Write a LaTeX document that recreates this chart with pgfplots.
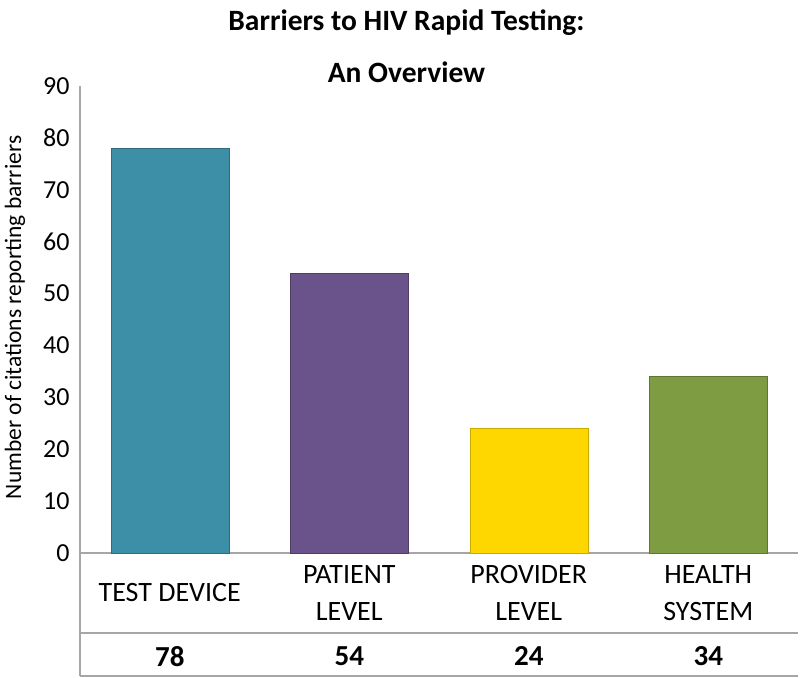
\documentclass[border=0pt]{standalone}
\usepackage{fontspec}
\setmainfont{Carlito}
\usepackage{pgfplots}
\pgfplotsset{compat=1.18}
\definecolor{cteal}{RGB}{60,143,167}
\definecolor{cpurple}{RGB}{106,82,138}
\definecolor{cyellow}{RGB}{254,214,0}
\definecolor{cgreen}{RGB}{126,157,66}
\definecolor{cline}{RGB}{166,166,166}
\begin{document}
\begin{tikzpicture}
\begin{axis}[
  scale only axis, width=718pt, height=467pt,
  xmin=-0.5, xmax=3.5, ymin=0, ymax=90,
  ytick={0,10,...,90},
  xtick={0,1,2,3},
  xticklabels={TEST DEVICE, PATIENT\\LEVEL, PROVIDER\\LEVEL, HEALTH\\SYSTEM},
  xticklabel style={align=center, anchor=center, yshift=-40pt, font=\fontsize{28}{37}\selectfont},
  yticklabel style={font=\fontsize{26}{30}\selectfont, xshift=-7pt},
  /pgf/number format/assume math mode=true,
  major tick length=0pt,
  axis x line*=bottom, axis y line*=left,
  axis line style={draw=cline, line width=1.5pt, -},
  clip=false,
]
\addplot[ybar, bar width=118pt, fill=cteal, draw=cteal!75!black] coordinates {(0,78)};
\addplot[ybar, bar width=118pt, fill=cpurple, draw=cpurple!75!black] coordinates {(1,54)};
\addplot[ybar, bar width=118pt, fill=cyellow, draw=cyellow!80!black] coordinates {(2,24)};
\addplot[ybar, bar width=118pt, fill=cgreen, draw=cgreen!75!black] coordinates {(3,34)};
\draw[cline, line width=1.5pt] ([yshift=-80pt]rel axis cs:0,0) -- ([yshift=-80pt]rel axis cs:1,0);
\draw[cline, line width=1.5pt] ([yshift=-123pt]rel axis cs:0,0) -- ([yshift=-123pt]rel axis cs:1,0);
\draw[cline, line width=1.5pt] (rel axis cs:0,0) -- ([yshift=-123pt]rel axis cs:0,0);
\foreach \x/\v in {0/78,1/54,2/24,3/34}{
  \edef\tmp{\noexpand\node[font=\noexpand\bfseries\noexpand\fontsize{29}{32}\noexpand\selectfont] at ([yshift=-103.5pt]axis cs:\x,0) {\v};}
  \tmp
}
\node[font=\bfseries\fontsize{29.5}{52}\selectfont, align=center] at ([shift={(326.5pt,40pt)}]rel axis cs:0,1) {Barriers to HIV Rapid Testing:\\An Overview};
\node[rotate=90, font=\fontsize{23.5}{26}\selectfont] at ([shift={(-65pt,2pt)}]rel axis cs:0,0.5) {Number of citations reporting barriers};
\end{axis}
\pgfresetboundingbox
\path[use as bounding box] ([shift={(-80pt,-125pt)}]current axis.south west) rectangle ([shift={(2pt,86pt)}]current axis.north east);
\end{tikzpicture}
\end{document}
